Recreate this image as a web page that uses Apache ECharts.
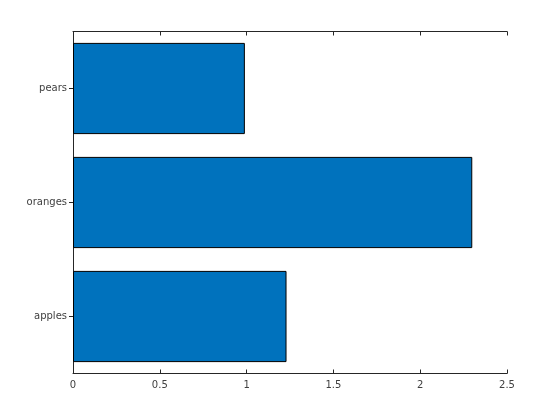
<!DOCTYPE html>
<html><head><meta charset="utf-8">
<script src="https://cdn.jsdelivr.net/npm/echarts@6/dist/echarts.min.js"></script>
<style>html,body{margin:0;padding:0;background:#fff}#c{width:560px;height:420px}</style>
</head><body><div id="c"></div>
<script>
const categories = ['apples', 'oranges', 'pears'];
const values = [1.23, 2.30, 0.99];
const xTicks = [0, 0.5, 1, 1.5, 2, 2.5];

const axisColor = '#262626';
const labelStyle = { color: '#404040', fontFamily: 'DejaVu Sans', fontSize: 10 };
const chart = echarts.init(document.getElementById('c'), null, { renderer: 'canvas' });
const xCommon = {
  type: 'value', min: xTicks[0], max: xTicks[xTicks.length - 1], interval: 0.5,
  splitLine: { show: false },
  axisLine: { show: true, lineStyle: { color: axisColor, width: 1 } },
  axisTick: { show: true, inside: true, length: 4, lineStyle: { color: axisColor } }
};
const yCommon = {
  type: 'category', data: categories, boundaryGap: true,
  splitLine: { show: false },
  axisLine: { show: true, lineStyle: { color: axisColor, width: 1 } },
  axisTick: { show: true, inside: true, length: 4, alignWithLabel: true, lineStyle: { color: axisColor } }
};
chart.setOption({
  animation: false,
  grid: { left: 73, right: 53, top: 31.5, bottom: 46.5, containLabel: false },
  xAxis: [
    Object.assign({}, xCommon, { position: 'bottom',
      axisLabel: Object.assign({ margin: 7, formatter: v => String(v) }, labelStyle) }),
    Object.assign({}, xCommon, { position: 'top', axisLabel: { show: false } })
  ],
  yAxis: [
    Object.assign({}, yCommon, { position: 'left', axisLabel: Object.assign({ margin: 6 }, labelStyle) }),
    Object.assign({}, yCommon, { position: 'right', axisLabel: { show: false } })
  ],
  series: [{
    type: 'bar', xAxisIndex: 0, yAxisIndex: 0, data: values, barWidth: '80%',
    itemStyle: { color: '#0072BD', borderColor: '#000', borderWidth: 1 }
  }]
});
</script></body></html>
